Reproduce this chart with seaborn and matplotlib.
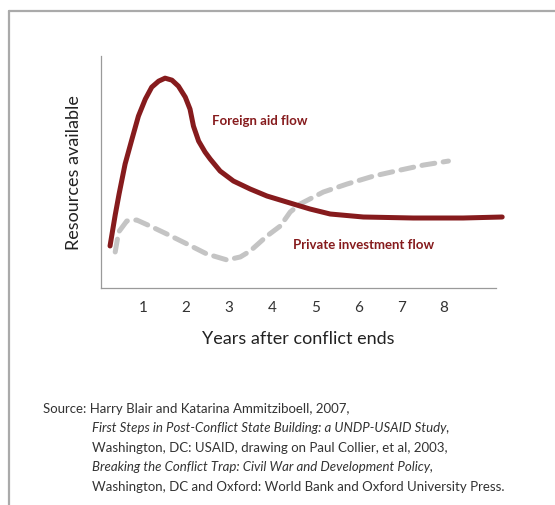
import numpy as np
import pandas as pd
import seaborn as sns
import matplotlib
matplotlib.use('Agg')
from matplotlib import pyplot as plt
from matplotlib.lines import Line2D

# 数据（从图中读取，单位任意）
aid_years = [0.23, 0.35, 0.44, 0.58, 0.74, 0.89, 1.05, 1.20, 1.36, 1.51, 1.67, 1.82, 1.98,
             2.09, 2.17, 2.29, 2.44, 2.56, 2.79, 3.10, 3.49, 3.88, 4.34, 4.88, 5.35,
             6.12, 7.28, 8.44, 9.35]
aid_values = [42, 73, 94, 124, 149, 172, 189, 201, 207, 210, 208, 202, 191,
              179, 162, 147, 136, 129, 117, 107, 99, 92, 86, 79, 74,
              71, 70, 70, 71]
private_years = [0.35, 0.43, 0.62, 0.85, 1.16, 1.55, 2.02, 2.48, 2.95, 3.26, 3.49, 3.88,
                 4.19, 4.42, 4.65, 5.19, 5.74, 6.36, 6.98, 7.52, 8.10]
private_values = [36, 56, 67, 68, 62, 54, 44, 34, 28, 31, 37, 52,
                  62, 76, 84, 96, 104, 112, 118, 123, 127]
tick_years = [1, 2, 3, 4, 5, 6, 7, 8]

sns.set_style('white')
plt.rcParams['font.family'] = ['Lato', 'DejaVu Sans']

red = '#861b1d'
grey = '#c4c4c4'

fig = plt.figure(figsize=(5.55, 5.06), dpi=100)
ax = fig.add_axes([0.182, 0.429, 0.712, 0.458])

aid = pd.DataFrame({'year': aid_years, 'value': aid_values})
private = pd.DataFrame({'year': private_years, 'value': private_values})

sns.lineplot(data=private, x='year', y='value', ax=ax, color=grey, linewidth=3.6,
             sort=False, clip_on=False)
ax.lines[-1].set_linestyle((0, (2.6, 1.7)))
ax.lines[-1].set_dash_capstyle('round')
ax.lines[-1].set_dash_joinstyle('round')
sns.lineplot(data=aid, x='year', y='value', ax=ax, color=red, linewidth=3.6,
             sort=False, clip_on=False)
ax.lines[-1].set_solid_capstyle('round')
ax.lines[-1].set_solid_joinstyle('round')

ax.text(2.60, 168, 'Foreign aid flow', color=red, fontsize=9.5, fontweight='bold',
        va='center', ha='left')
ax.text(4.49, 44, 'Private investment flow', color=red, fontsize=9.5, fontweight='bold',
        va='center', ha='left')

ax.set_xlim(0.02, 9.21)
ax.set_ylim(0, 232)
ax.set_xticks(tick_years)
ax.set_xticklabels([str(t) for t in tick_years])
ax.set_yticks([])
ax.tick_params(axis='x', direction='in', length=5, width=0.8, color='#999999',
               labelsize=11, labelcolor='#333333', pad=9)
for s in ['top', 'right']:
    ax.spines[s].set_visible(False)
for s in ['left', 'bottom']:
    ax.spines[s].set_color('#9a9a9a')
    ax.spines[s].set_linewidth(0.9)

ax.set_xlabel('Years after conflict ends', fontsize=13, color='#222222', labelpad=11)
ax.set_ylabel('Resources available', fontsize=13, color='#222222', labelpad=14)

# 外框
fig.add_artist(Line2D([9 / 555, 9 / 555], [0, 1 - 12 / 506], color='#aaaaaa', linewidth=1.6))
fig.add_artist(Line2D([9 / 555, 1], [1 - 12 / 506, 1 - 12 / 506], color='#aaaaaa', linewidth=1.6))

# 来源
src_color = '#333333'
fs = 9.5
fig.text(43 / 555, 1 - 409 / 506, 'Source: Harry Blair and Katarina Ammitziboell, 2007,',
         fontsize=fs, color=src_color, va='center')
fig.text(92 / 555, 1 - 428.5 / 506, 'First Steps in Post-Conflict State Building: a UNDP-USAID Study,',
         fontsize=fs, color=src_color, va='center', style='italic')
fig.text(92 / 555, 1 - 448 / 506, 'Washington, DC: USAID, drawing on Paul Collier, et al, 2003,',
         fontsize=fs, color=src_color, va='center')
fig.text(92 / 555, 1 - 467.5 / 506, 'Breaking the Conflict Trap: Civil War and Development Policy,',
         fontsize=fs, color=src_color, va='center', style='italic')
fig.text(92 / 555, 1 - 487 / 506, 'Washington, DC and Oxford: World Bank and Oxford University Press.',
         fontsize=fs, color=src_color, va='center')

fig.savefig('out.png', dpi=100)
